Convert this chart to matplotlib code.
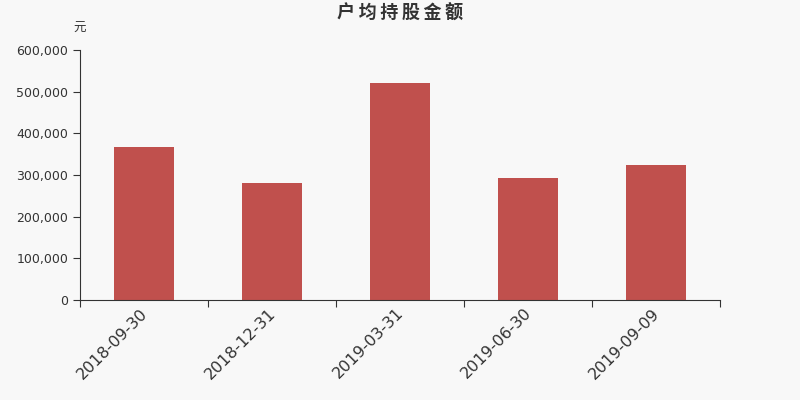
import matplotlib
matplotlib.use("Agg")
import matplotlib.pyplot as plt
import matplotlib.transforms as mtransforms
from matplotlib.ticker import FuncFormatter

plt.rcParams['font.family'] = ['DejaVu Sans', 'Noto Sans CJK SC']

dates = ['2018-09-30', '2018-12-31', '2019-03-31', '2019-06-30', '2019-09-09']
amounts = [367000, 280000, 521000, 292000, 323000]

bg = '#f8f8f8'
fig = plt.figure(figsize=(8, 4), dpi=100, facecolor=bg)
ax = fig.add_axes([0.1, 0.25, 0.8, 0.625], facecolor=bg)

x = range(len(dates))
ax.bar(x, amounts, width=0.47, color='#c0504d')

ax.set_xlim(-0.5, len(dates) - 0.5)
ax.set_ylim(0, 600000)
ax.set_yticks(range(0, 600001, 100000))
ax.yaxis.set_major_formatter(FuncFormatter(lambda v, p: f'{int(v):,}'))

# ticks on category boundaries, labels at centres
ax.set_xticks([i - 0.5 for i in range(len(dates) + 1)])
ax.set_xticklabels([])
ax.set_xticks(list(x), minor=True)
ax.set_xticklabels(dates, minor=True, rotation=45, ha='right', va='top',
                   rotation_mode='anchor', fontsize=11.5, color='#333333')
ax.tick_params(axis='x', which='minor', length=0, pad=4)
ax.tick_params(axis='x', which='major', length=5, color='#333333')
ax.tick_params(axis='y', length=5, labelsize=9, colors='#333333')

# nudge rotated labels a little to the left
shift = mtransforms.ScaledTranslation(-4 / 100, 0, fig.dpi_scale_trans)
for lab in ax.xaxis.get_minorticklabels():
    lab.set_transform(lab.get_transform() + shift)

for side in ['top', 'right']:
    ax.spines[side].set_visible(False)
for side in ['left', 'bottom']:
    ax.spines[side].set_color('#333333')

fig.text(0.5, 0.967, '\u2009'.join('户均持股金额'), ha='center', va='center',
         fontsize=13, fontweight='bold', color='#333333',
         family=['Noto Sans CJK SC', 'DejaVu Sans'])
fig.text(0.099, 0.93, '元', ha='center', va='center', fontsize=9, color='#333333',
         family=['Noto Sans CJK SC', 'DejaVu Sans'])

fig.savefig('out.png', dpi=100, facecolor=bg)
